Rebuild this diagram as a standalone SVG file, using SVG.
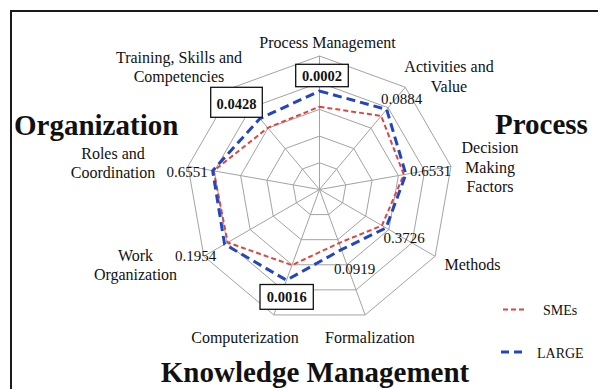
<svg xmlns="http://www.w3.org/2000/svg" width="598" height="389" viewBox="0 0 598 389">
<style>
text{font-family:"Liberation Serif","Times New Roman",serif;fill:#111}
.cat{font-size:16px;text-anchor:middle}
.val{font-size:15px}
.bv{font-size:14.5px;font-weight:bold;text-anchor:middle}
.big{font-size:29px;font-weight:bold}
.leg{font-size:14px}
.grid{fill:none;stroke:#a3a3a3;stroke-width:1}
.box{fill:#fff;stroke:#111;stroke-width:1.3}
.sme{fill:none;stroke:#e0453f;stroke-width:2;stroke-dasharray:5 3}
.lrg{fill:none;stroke:#2346c0;stroke-width:3;stroke-dasharray:9 5}
</style>
<rect width="598" height="389" fill="#fff"/>
<path d="M11,389 V11 H598" fill="none" stroke="#1a1a1a" stroke-width="2"/>
<g id="grid" transform="translate(319.5,189.5)">
<polygon class="grid" points="0,-26.7 17.16,-20.45 26.29,-4.64 23.12,13.35 9.13,25.09 -9.13,25.09 -23.12,13.35 -26.29,-4.64 -17.16,-20.45"/>
<polygon class="grid" points="0,-53.4 34.33,-40.9 52.59,-9.27 46.24,26.7 18.26,50.18 -18.26,50.18 -46.24,26.7 -52.59,-9.27 -34.33,-40.9"/>
<polygon class="grid" points="0,-80.1 51.49,-61.36 78.88,-13.91 69.37,40.05 27.39,75.27 -27.39,75.27 -69.37,40.05 -78.88,-13.91 -51.49,-61.36"/>
<polygon class="grid" points="0,-106.8 68.65,-81.81 105.18,-18.54 92.49,53.4 36.53,100.36 -36.53,100.36 -92.49,53.4 -105.18,-18.54 -68.65,-81.81"/>
<polygon class="grid" points="0,-133.5 85.81,-102.26 131.47,-23.18 115.61,66.75 45.66,125.45 -45.66,125.45 -115.61,66.75 -131.47,-23.18 -85.81,-102.26"/>
<path class="grid" d="M0,0 L0,-133.5 M0,0 L85.81,-102.26 M0,0 L131.47,-23.18 M0,0 L115.61,66.75 M0,0 L45.66,125.45 M0,0 L-45.66,125.45 M0,0 L-115.61,66.75 M0,0 L-131.47,-23.18 M0,0 L-85.81,-102.26"/>
</g>
<g id="series" transform="translate(319.5,189.5)">
<polygon id="series-smes" class="sme" points="0,-82.8 61.71,-73.54 84.3,-14.86 62.44,36.05 19.49,53.56 -27.53,75.65 -91.8,53 -105.87,-18.66 -51.75,-61.66"/>
<polygon id="series-large" class="lrg" points="0,-98.5 67.17,-80.05 86.37,-15.22 66.51,38.4 21.89,60.14 -33,90.68 -94.91,54.8 -106.85,-18.84 -59.52,-70.93"/>
</g>
<g id="axis-process-management"><text class="cat" x="327.5" y="48">Process Management</text></g>
<g id="axis-activities"><text class="cat" x="449" y="72">Activities and</text><text class="cat" x="449" y="92">Value</text></g>
<g id="axis-decision"><text class="cat" x="490" y="153">Decision</text><text class="cat" x="490" y="173">Making</text><text class="cat" x="490" y="192">Factors</text></g>
<g id="axis-methods"><text class="cat" x="472.5" y="270">Methods</text></g>
<g id="axis-formalization"><text class="cat" x="370" y="343">Formalization</text></g>
<g id="axis-computerization"><text class="cat" x="245" y="343">Computerization</text></g>
<g id="axis-work"><text class="cat" x="135.5" y="261">Work</text><text class="cat" x="135.5" y="280">Organization</text></g>
<g id="axis-roles"><text class="cat" x="113" y="159">Roles and</text><text class="cat" x="113" y="178">Coordination</text></g>
<g id="axis-training"><text class="cat" x="179" y="63">Training, Skills and</text><text class="cat" x="179" y="82">Competencies</text></g>
<g id="values">
<text class="val" x="381" y="104">0.0884</text>
<text class="val" x="410" y="175.5">0.6531</text>
<text class="val" x="383.5" y="243">0.3726</text>
<text class="val" x="334" y="273.5">0.0919</text>
<text class="val" x="175" y="261">0.1954</text>
<text class="val" x="166.5" y="176.5">0.6551</text>
</g>
<g id="pvalue-0002"><rect class="box" x="295.7" y="64.3" width="52.6" height="22.4"/><text class="bv" x="322" y="80.5">0.0002</text></g>
<g id="pvalue-0428"><rect class="box" x="210.7" y="87.3" width="51.6" height="30"/><text class="bv" x="236.5" y="108.5">0.0428</text></g>
<g id="pvalue-0016"><rect class="box" x="260" y="284.5" width="53.3" height="24.8"/><text class="bv" x="286.7" y="302">0.0016</text></g>
<g id="group-organization"><text class="big" x="14" y="135">Organization</text></g>
<g id="group-process"><text class="big" x="495" y="133.5">Process</text></g>
<g id="group-knowledge"><text class="big" x="315" y="381.5" text-anchor="middle">Knowledge Management</text></g>
<g id="legend">
<line x1="503" y1="309.5" x2="525" y2="309.5" stroke="#e0453f" stroke-width="2" stroke-dasharray="5 3"/>
<text class="leg" x="543" y="315">SMEs</text>
<line x1="501" y1="352" x2="527" y2="352" stroke="#2346c0" stroke-width="3" stroke-dasharray="8 5"/>
<text class="leg" x="537" y="357.5">LARGE</text>
</g>
</svg>
